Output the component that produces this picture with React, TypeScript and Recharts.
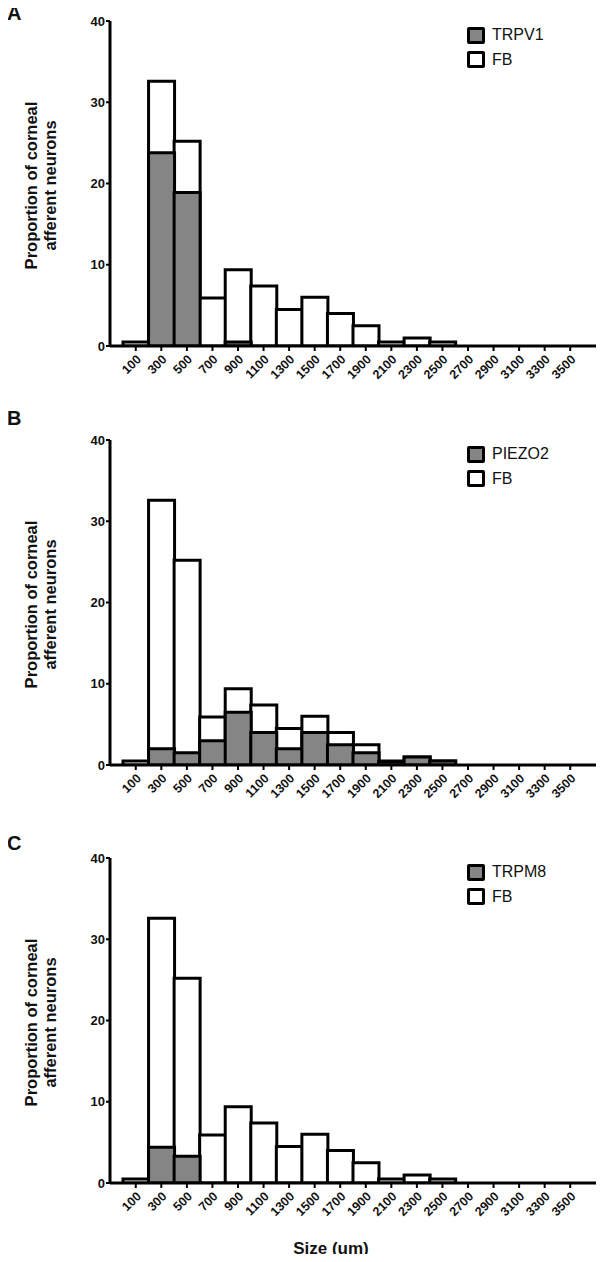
import React from 'react';
import { BarChart, Bar, XAxis, YAxis, Legend, Label } from 'recharts';

const sizes = ['100', '300', '500', '700', '900', '1100', '1300', '1500', '1700', '1900', '2100', '2300', '2500', '2700', '2900', '3100', '3300', '3500'];
const fb = [0.5, 32.6, 25.2, 5.9, 9.4, 7.4, 4.5, 6.0, 4.0, 2.5, 0.5, 1.0, 0.5, 0, 0, 0, 0, 0];
const trpv1 = [0, 23.8, 18.9, 0, 0.5, 0, 0, 0, 0, 0, 0, 0, 0, 0, 0, 0, 0, 0];
const piezo2 = [0, 2.0, 1.5, 3.0, 6.5, 4.0, 2.0, 4.0, 2.5, 1.5, 0.4, 1.0, 0.5, 0, 0, 0, 0, 0];
const trpm8 = [0, 4.4, 3.3, 0, 0, 0, 0, 0, 0, 0, 0, 0, 0, 0, 0, 0, 0, 0];
const yTicks = [0, 10, 20, 30, 40];

const FONT = '"Liberation Sans", Arial, Helvetica, sans-serif';
const GRAY = '#858585';

const XTick = (props: any) => {
  const { x, y, payload } = props;
  return (
    <g transform={`translate(${x + 3},${y + 4}) rotate(-45)`}>
      <text x={0} y={0} dy="0.35em" textAnchor="end" fontSize={12.5} fontWeight="bold" fontFamily={FONT} fill="#111">
        {payload.value}
      </text>
    </g>
  );
};

const YTick = (props: any) => {
  const { x, y, payload } = props;
  return (
    <text x={x} y={y} dy="0.35em" textAnchor="end" fontSize={13} fontWeight="bold" fontFamily={FONT} fill="#111">
      {payload.value}
    </text>
  );
};

const YLabel = (props: any) => {
  const { viewBox } = props;
  const cy = viewBox.y + viewBox.height / 2 + 2;
  return (
    <g fontFamily={FONT} fontWeight="bold" fontSize={16.5} fill="#111">
      <text transform={`translate(37,${cy}) rotate(-90)`} textAnchor="middle">Proportion of corneal</text>
      <text transform={`translate(55.5,${cy}) rotate(-90)`} textAnchor="middle">afferent neurons</text>
    </g>
  );
};

const XLabel = (props: any) => {
  const { viewBox } = props;
  return (
    <text x={331} y={viewBox.y + 71} textAnchor="middle" fontFamily={FONT} fontWeight="bold" fontSize={17} fill="#111">
      Size (um)
    </text>
  );
};

const makeLegend = (name: string) => () => (
  <div style={{ fontFamily: FONT, fontSize: 16, color: '#111' }}>
    {[{ n: name, c: GRAY }, { n: 'FB', c: '#fff' }].map((r) => (
      <div key={r.n} style={{ display: 'flex', alignItems: 'center', height: 24.5 }}>
        <div style={{ width: 18, height: 17, boxSizing: 'border-box', border: '3px solid #000', borderRadius: 2, background: r.c }} />
        <span style={{ marginLeft: 7 }}>{r.n}</span>
      </div>
    ))}
  </div>
);

type PanelProps = { marker: number[]; name: string; top: number; height: number; xLabel?: boolean };

const Panel = ({ marker, name, top, height, xLabel }: PanelProps) => {
  const data = sizes.map((s, i) => ({ size: s, fb: fb[i], marker: marker[i] }));
  const axisH = xLabel ? 75 : 60;
  return (
    <div style={{ position: 'absolute', left: 0, top }}>
      <BarChart
        width={604}
        height={height}
        data={data}
        margin={{ top: 21, right: 6, left: 0, bottom: height - 346 - axisH }}
        barCategoryGap={0}
        barGap={0}
      >
        <XAxis
          xAxisId="fb"
          dataKey="size"
          interval={0}
          padding={{ left: 13, right: 15 }}
          height={axisH}
          tick={<XTick />}
          tickSize={5}
          tickLine={{ stroke: '#000', strokeWidth: 2 }}
          axisLine={{ stroke: '#000', strokeWidth: 3 }}
        >
          {xLabel ? <Label content={<XLabel />} /> : null}
        </XAxis>
        <XAxis xAxisId="m" dataKey="size" hide padding={{ left: 13, right: 15 }} />
        <YAxis
          domain={[0, 40]}
          ticks={yTicks}
          width={110}
          tick={<YTick />}
          tickSize={4}
          tickMargin={1}
          tickLine={{ stroke: '#000', strokeWidth: 2 }}
          axisLine={{ stroke: '#000', strokeWidth: 3 }}
          allowDataOverflow
        >
          <Label content={<YLabel />} />
        </YAxis>
        <Legend
          verticalAlign="middle"
          align="center"
          layout="vertical"
          content={makeLegend(name)}
          wrapperStyle={{ left: 467, top: 23, width: 130 }}
        />
        <Bar xAxisId="fb" dataKey="fb" name="FB" fill="#fff" stroke="#000" strokeWidth={3} isAnimationActive={false} />
        <Bar xAxisId="m" dataKey="marker" name={name} fill={GRAY} stroke="#000" strokeWidth={3} isAnimationActive={false} />
      </BarChart>
    </div>
  );
};

const letterStyle = (top: number): React.CSSProperties => ({
  position: 'absolute',
  left: 7,
  top,
  fontFamily: FONT,
  fontWeight: 'bold',
  fontSize: 20,
  lineHeight: '20px',
  color: '#111',
});

export default function App() {
  return (
    <div style={{ position: 'relative', width: 604, height: 1262, margin: -8, background: '#fff', overflow: 'hidden' }}>
      <Panel marker={trpv1} name="TRPV1" top={0} height={418} />
      <Panel marker={piezo2} name="PIEZO2" top={419} height={418} />
      <Panel marker={trpm8} name="TRPM8" top={837} height={425} xLabel />
      <div style={letterStyle(3)}>A</div>
      <div style={letterStyle(408)}>B</div>
      <div style={letterStyle(833)}>C</div>
    </div>
  );
}
